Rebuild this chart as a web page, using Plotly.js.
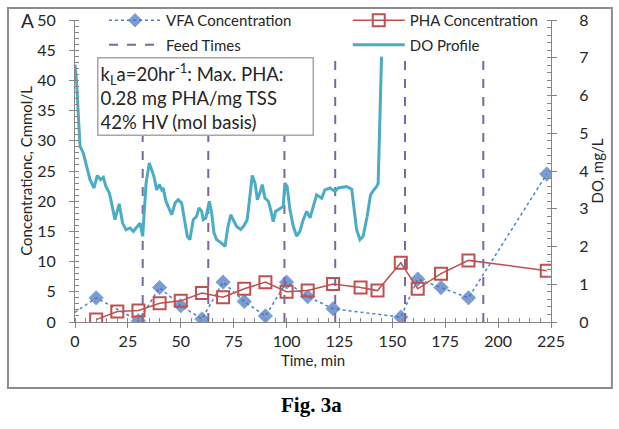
<!DOCTYPE html>
<html>
<head>
<meta charset="utf-8">
<script src="https://cdn.plot.ly/plotly-3.0.1.min.js"></script>
<style>
  html, body { margin: 0; padding: 0; background: #fff; }
  #chart { width: 619px; height: 429px; }
</style>
</head>
<body>
<div id="chart"></div>
<script>
// VFA concentration (Cmmol/L)
const vfaTime = [0, 10, 30, 40, 50, 60, 70, 80, 90, 100, 110, 122, 154, 162, 173, 186, 223];
const vfaConc = [1.6, 4.0, 0.2, 5.7, 2.7, 0.5, 6.6, 3.4, 1.0, 6.6, 4.2, 2.2, 0.8, 7.1, 5.7, 4.0, 24.5];

// PHA concentration (Cmmol/L)
const phaTime = [10, 20, 30, 40, 50, 60, 70, 80, 90, 100, 110, 122, 135, 143, 154, 162, 173, 186, 223];
const phaConc = [0.4, 1.75, 1.9, 3.1, 3.5, 4.8, 4.1, 5.5, 6.6, 5.0, 5.2, 6.3, 5.7, 5.2, 9.8, 5.5, 8.0, 10.2, 8.5];

// feed times (min)
const feedTimes = [32, 63, 99, 123, 156, 193];
const feedTop = 7;

// DO profile (mg/L)
const doTime = [0,0.8,1.6,2.4,3.9,5.5,7.1,9,10.5,12.1,13.4,14.6,16.2,17.3,18.9,20.9,22.5,24.1,26,27.6,
  29.2,30.7,32,33.6,35.1,37.3,38.6,39.9,41,41.7,43,44.1,45.7,47.3,48.8,50.4,51.7,53.1,54.3,55.9,
  57.5,58.6,59.9,60.6,61.8,63.5,64.6,65.7,67,69.3,70.9,72.2,73.6,74.8,76.4,78.3,79.9,81.4,82.7,83.8,
  85.1,86.2,87.4,88.5,89.8,91.4,92.5,93.7,94.8,96.9,98.4,99.2,100.3,101.6,103.2,104.8,106.3,107.9,109.5,111.1,
  112.6,114.2,116.6,118.1,120.5,122.9,124.4,126.8,128.4,130.8,131.9,133.1,134.7,136.2,138.1,139.7,141.3,142.6,143.3,144.1,144.9];
const doVal = [6.82,6.33,5.45,4.65,4.48,4.12,3.77,3.55,3.88,3.77,3.83,3.59,3.42,3.15,2.71,3.13,2.62,2.44,2.49,2.4,
  2.53,2.62,2.27,3.68,4.21,3.86,3.5,3.64,3.5,3.55,3.2,3.06,2.84,3.15,3.24,3.15,2.71,2.27,2.18,2.71,
  2.8,3.02,2.93,2.71,2.75,3.2,2.89,2.36,2.18,2.09,2.0,2.49,2.84,2.71,2.53,2.45,2.55,2.71,3.42,3.88,
  3.68,3.24,3.42,3.64,3.28,3.2,2.97,2.66,2.93,3.02,3.06,3.68,3.59,2.97,2.53,2.27,2.4,2.71,2.93,2.76,
  3.06,3.37,3.28,3.5,3.55,3.46,3.55,3.57,3.59,3.52,3.06,2.45,2.18,2.27,2.8,3.37,3.5,3.59,3.68,5.27,7.03];

// vertical feed lines as one trace, separated by gaps
let feedX = [], feedY = [];
feedTimes.forEach(t => { feedX.push(t, t, null); feedY.push(0, feedTop, null); });

const font = "Lato, 'Open Sans', sans-serif";
const axisColor = "#868686";
const txt = "#262626";

const data = [
  {
    x: vfaTime, y: vfaConc, name: "VFA Concentration", type: "scatter", mode: "lines+markers",
    legend: "legend", legendgroup: "a",
    line: { color: "#4F81BD", width: 1.5, dash: "dot" },
    marker: { symbol: "diamond", size: vfaTime.map(t => t === 0 ? 0 : 11), color: "#4472C4" }
  },
  {
    x: phaTime, y: phaConc, name: "PHA Concentration", type: "scatter", mode: "lines+markers",
    legend: "legend2", legendgroup: "b",
    line: { color: "#C0504D", width: 1.5 },
    marker: { symbol: "square-open", size: 12, color: "#C0504D", line: { width: 2 } }
  },
  {
    x: feedX, y: feedY, name: "Feed Times", yaxis: "y2", type: "scatter", mode: "lines",
    legend: "legend", legendgroup: "c",
    line: { color: "#8064A2", width: 2, dash: "dash" }
  },
  {
    x: doTime, y: doVal, name: "DO Profile", yaxis: "y2", type: "scatter", mode: "lines",
    legend: "legend2", legendgroup: "d",
    line: { color: "#4BACC6", width: 3 }
  }
];

const legendBase = {
  orientation: "v", yanchor: "top", y: 1.053, xanchor: "left",
  itemwidth: 52, bgcolor: "rgba(0,0,0,0)", tracegroupgap: 2,
  font: { family: font, size: 15, color: txt }
};

const layout = {
  width: 619, height: 429,
  margin: { l: 75, r: 68, t: 20, b: 107, autoexpand: false },
  paper_bgcolor: "#fff", plot_bgcolor: "#fff",
  font: { family: font, size: 16, color: txt },
  showlegend: true,
  legend: Object.assign({}, legendBase, { x: 0.061 }),
  legend2: Object.assign({}, legendBase, { x: 0.573 }),
  xaxis: {
    range: [0, 225], dtick: 25, tick0: 0, showgrid: false, zeroline: false,
    showline: true, linecolor: axisColor, ticks: "outside", ticklen: 5, tickcolor: axisColor,
    minor: { dtick: 5, ticks: "inside", ticklen: 4, tickcolor: axisColor },
    title: { text: "Time, min", standoff: 6, font: { size: 15 } }
  },
  yaxis: {
    range: [0, 50], dtick: 5, showgrid: false, zeroline: false,
    showline: true, linecolor: axisColor, ticks: "outside", ticklen: 5, tickcolor: axisColor,
    ticklabelstandoff: 10,
    minor: { dtick: 1, ticks: "inside", ticklen: 4, tickcolor: axisColor },
    title: { text: "Concentrationc, Cmmol/L", standoff: 0, font: { size: 15 } }
  },
  yaxis2: {
    range: [0, 8], dtick: 1, overlaying: "y", side: "right", showgrid: false, zeroline: false,
    showline: true, linecolor: axisColor, ticks: "outside", ticklen: 5, tickcolor: axisColor,
    ticklabelstandoff: 19,
    minor: { dtick: 0.2, ticks: "inside", ticklen: 4, tickcolor: axisColor },
    title: { text: "DO, mg/L", standoff: 0, font: { size: 15 } }
  },
  shapes: [
    { type: "rect", xref: "paper", yref: "paper", x0: -0.1408, x1: 1.128, y0: -0.2185, y1: 1.0397,
      line: { color: "#8c8c8c", width: 2 }, layer: "below" }
  ],
  annotations: [
    { text: "A", xref: "paper", yref: "paper", x: -0.1, y: 1.0, xanchor: "center", yanchor: "middle",
      showarrow: false, font: { size: 19, color: txt } },
    { text: "k<sub>L</sub>a=20hr<sup>-1</sup>: Max. PHA:<br>0.28 mg PHA/mg TSS<br>42% HV (mol basis)",
      xref: "paper", yref: "paper", x: 0.0462, y: 0.8775, xanchor: "left", yanchor: "top",
      showarrow: false, align: "left", bgcolor: "#fff", bordercolor: "#a6a6a6", borderwidth: 1.5,
      borderpad: 2, width: 210, height: 72, font: { size: 18.5, color: txt } },
    { text: "<b>Fig. 3a</b>", xref: "paper", yref: "paper", x: 0.496, y: -0.275,
      xanchor: "center", yanchor: "middle", showarrow: false,
      font: { family: "'Liberation Serif', 'Times New Roman', serif", size: 21, color: "#000" } }
  ]
};

Plotly.newPlot("chart", data, layout, { displayModeBar: false, staticPlot: true });
</script>
</body>
</html>
